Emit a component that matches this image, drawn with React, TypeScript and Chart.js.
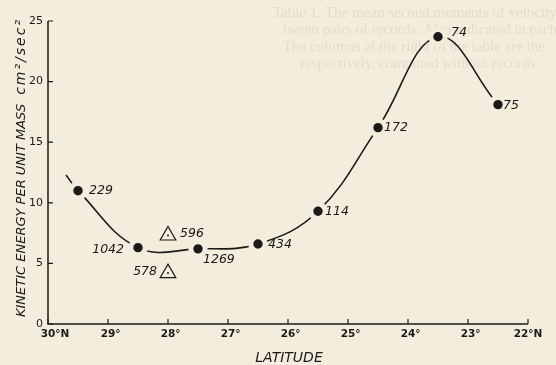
import { useEffect, useRef } from "react";
import { Chart, registerables } from "chart.js";

Chart.register(...registerables);

// ---- data ----
const latitudeTicks = [30, 29, 28, 27, 26, 25, 24, 23, 22];
const energyTicks = [0, 5, 10, 15, 20, 25];
const stationLat = [29.5, 28.5, 27.5, 26.5, 25.5, 24.5, 23.5, 22.5];
const stationKE = [11.0, 6.3, 6.2, 6.6, 9.3, 16.2, 23.7, 18.1];
const stationCounts = ["229", "1042", "1269", "434", "114", "172", "74", "75"];
const triangleLat = [28.0, 28.0];
const triangleKE = [7.3, 4.2];
const triangleCounts = ["596", "578"];
const curveLat = [29.7, 29.5, 28.5, 27.5, 26.5, 25.5, 24.5, 23.5, 22.5];
const curveKE = [12.3, 11.0, 6.3, 6.2, 6.6, 9.3, 16.2, 23.7, 18.1];
const bleedLines = [
  "Table 1. The mean second moments of velocity",
  "tween pairs of records. Also indicated in each 1°",
  "The columns at the right of the table are the",
  "respectively, computed without records.",
];
const yTitleMain = "KINETIC ENERGY PER UNIT MASS";
const yTitleUnit = "cm²/sec²";
const xTitle = "LATITUDE";

// ---- styles ----
const BG = "rgb(242,237,221)";
const INK = "#1b1a18";
const stationLabelPlace: [number, number, CanvasTextAlign][] = [
  [11, 0, "left"],
  [-14, 2, "right"],
  [5, 11, "left"],
  [10, 1, "left"],
  [7, 0, "left"],
  [6, 0, "left"],
  [13, -4, "left"],
  [5, 1, "left"],
];
const triangleLabelPlace: [number, number, CanvasTextAlign][] = [
  [12, -2, "left"],
  [-11, -1, "right"],
];
const bleedPlace = [
  [273, 13],
  [283, 30],
  [283, 47],
  [300, 64],
];

const decor = {
  id: "decor",
  beforeDraw(chart: any) {
    const { ctx, width, height } = chart;
    ctx.save();
    ctx.fillStyle = BG;
    ctx.fillRect(0, 0, width, height);
    ctx.font = '15px "Liberation Serif"';
    ctx.fillStyle = "rgba(110,100,80,0.12)";
    ctx.textBaseline = "middle";
    bleedLines.forEach((t, i) => ctx.fillText(t, bleedPlace[i][0], bleedPlace[i][1]));
    ctx.restore();
  },
  afterDatasetsDraw(chart: any) {
    const { ctx } = chart;
    const xs = chart.scales.x;
    const ys = chart.scales.y;
    const left = xs.getPixelForValue(30);
    const right = xs.getPixelForValue(22);
    const bottom = ys.getPixelForValue(0);
    const top = ys.getPixelForValue(25);
    ctx.save();
    ctx.strokeStyle = INK;
    ctx.lineWidth = 1.5;
    ctx.beginPath();
    ctx.moveTo(left, top);
    ctx.lineTo(left, bottom);
    ctx.lineTo(right, bottom);
    ctx.stroke();
    ctx.lineWidth = 1.2;
    ctx.beginPath();
    latitudeTicks.forEach((v) => {
      const px = xs.getPixelForValue(v);
      ctx.moveTo(px, bottom);
      ctx.lineTo(px, bottom - 5);
    });
    energyTicks.forEach((v) => {
      const py = ys.getPixelForValue(v);
      ctx.moveTo(left, py);
      ctx.lineTo(left + 5, py);
    });
    ctx.stroke();

    // x tick labels
    ctx.fillStyle = INK;
    ctx.font = 'bold 10.5px "DejaVu Sans"';
    ctx.textBaseline = "middle";
    ctx.textAlign = "left";
    latitudeTicks.forEach((v, i) => {
      const px = xs.getPixelForValue(v);
      const txt = v + "°" + (i === 0 || i === latitudeTicks.length - 1 ? "N" : "");
      const wNum = ctx.measureText(String(v)).width;
      const wAll = ctx.measureText(txt).width;
      const x0 = i === latitudeTicks.length - 1 ? px - wAll / 2 : px - wNum / 2;
      ctx.fillText(txt, x0, bottom + 10);
    });

    // data labels
    ctx.font = 'italic 12.5px "DejaVu Sans"';
    ctx.textBaseline = "middle";
    const m0 = chart.getDatasetMeta(0);
    m0.data.forEach((pt: any, i: number) => {
      const [dx, dy, al] = stationLabelPlace[i];
      ctx.textAlign = al;
      ctx.fillText(stationCounts[i], pt.x + dx, pt.y + dy);
    });
    const m1 = chart.getDatasetMeta(1);
    m1.data.forEach((pt: any, i: number) => {
      const [dx, dy, al] = triangleLabelPlace[i];
      ctx.textAlign = al;
      ctx.fillText(triangleCounts[i], pt.x + dx, pt.y + dy);
      ctx.beginPath();
      ctx.arc(pt.x, pt.y, 1, 0, Math.PI * 2);
      ctx.fill();
    });

    // x title
    ctx.textAlign = "center";
    ctx.textBaseline = "alphabetic";
    ctx.font = 'italic 14px "DejaVu Sans"';
    ctx.fillText(xTitle, (left + right) / 2 + 1, 362);

    // y title
    ctx.translate(25, 317);
    ctx.rotate(-Math.PI / 2);
    ctx.textAlign = "left";
    ctx.font = 'italic 13px "DejaVu Sans"';
    ctx.fillText(yTitleMain, 0, 0);
    const w = ctx.measureText(yTitleMain).width;
    ctx.font = 'italic 14px "DejaVu Sans"';
    (ctx as any).letterSpacing = "2px";
    ctx.fillText(yTitleUnit, w + 9, 0);
    (ctx as any).letterSpacing = "0px";
    ctx.restore();
  },
};

export default function App() {
  const ref = useRef<HTMLCanvasElement | null>(null);
  useEffect(() => {
    if (!ref.current) return;
    const chart = new Chart(ref.current, {
      type: "scatter",
      data: {
        datasets: [
          {
            label: "stations",
            data: stationLat.map((x, i) => ({ x, y: stationKE[i] })),
            showLine: false,
            pointRadius: 7.2,
            pointBorderWidth: 5,
            pointBackgroundColor: INK,
            pointBorderColor: BG,
          },
          {
            label: "triangles",
            data: triangleLat.map((x, i) => ({ x, y: triangleKE[i] })),
            showLine: false,
            pointStyle: "triangle",
            pointRadius: 9,
            pointBorderWidth: 1.2,
            pointBackgroundColor: BG,
            pointBorderColor: INK,
          },
          {
            label: "curve",
            data: curveLat.map((x, i) => ({ x, y: curveKE[i] })),
            showLine: true,
            tension: 0.4,
            borderColor: INK,
            borderWidth: 1.6,
            pointRadius: 0,
          },
        ],
      },
      options: {
        animation: false,
        responsive: false,
        devicePixelRatio: 1,
        layout: { padding: { top: 21, right: 28, left: 0, bottom: 0 } },
        plugins: { legend: { display: false }, tooltip: { enabled: false }, title: { display: false } },
        scales: {
          x: {
            type: "linear",
            reverse: true,
            min: 22,
            max: 30,
            grid: { display: false, drawTicks: false },
            border: { display: false },
            ticks: { display: false },
            afterFit: (s: any) => {
              s.height = 41;
            },
          },
          y: {
            type: "linear",
            min: 0,
            max: 25,
            grid: { display: false, drawTicks: false },
            border: { display: false },
            ticks: {
              stepSize: 5,
              padding: 5,
              color: INK,
              font: { family: "DejaVu Sans", size: 11 },
            },
            afterFit: (s: any) => {
              s.width = 48;
            },
          },
        },
      },
      plugins: [decor],
    });
    return () => chart.destroy();
  }, []);
  return (
    <div style={{ position: "fixed", left: 0, top: 0, width: 556, height: 365, background: BG }}>
      <canvas ref={ref} width={556} height={365} />
    </div>
  );
}
